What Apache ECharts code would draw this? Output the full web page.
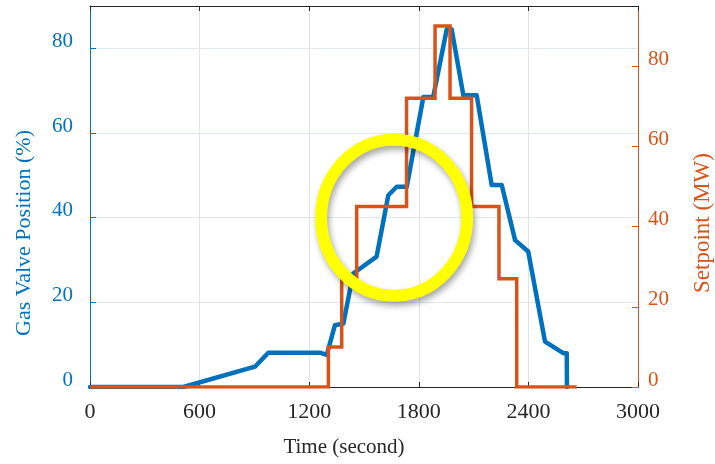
<!DOCTYPE html>
<html>
<head>
<meta charset="utf-8">
<script src="https://cdn.jsdelivr.net/npm/echarts@6/dist/echarts.min.js"></script>
<style>
  html, body { margin: 0; padding: 0; background: #fff; }
  #main { width: 715px; height: 464px; }
</style>
</head>
<body>
<div id="main"></div>
<script>
// 时间轴刻度
const timeTicks = [0, 600, 1200, 1800, 2400, 3000];

// 阀门开度 (%) —— 左轴
const valveTime = [0, 511, 903, 976, 1259, 1296, 1341, 1387, 1441, 1569, 1633, 1679, 1734,
  1825, 1879, 1953, 1980, 2044, 2117, 2199, 2254, 2327, 2399, 2491, 2591, 2610, 2611];
const valvePos = [0, 0, 4.8, 8.1, 8.1, 7.6, 14.6, 15.0, 26.8, 30.8, 45.3, 47.3, 47.3,
  68.5, 68.5, 84.5, 84.5, 68.9, 68.9, 47.7, 47.7, 34.7, 32.0, 10.7, 8.0, 8.0, 0];

// 功率设定值 (MW) —— 右轴，阶梯
const setTime = [0, 1305, 1305, 1378, 1378, 1460, 1460, 1733, 1733, 1889, 1889, 1971, 1971,
  2089, 2089, 2239, 2239, 2336, 2336, 2664];
const setValue = [0, 0, 10, 10, 27, 27, 45, 45, 72, 72, 90, 90, 72,
  72, 45, 45, 27, 27, 0, 0];

const BLUE = '#0072BD';
const ORANGE = '#D95319';
const FONT = '"Liberation Serif", "Times New Roman", serif';

const myChart = echarts.init(document.getElementById('main'));

myChart.setOption({
  animation: false,
  grid: { left: 90, right: 77, top: 6, bottom: 77 },
  xAxis: [{
    type: 'value',
    min: timeTicks[0],
    max: timeTicks[timeTicks.length - 1],
    interval: 600,
    axisLine: { onZero: false, lineStyle: { color: '#262626', width: 1 } },
    axisTick: { inside: true, length: 5, lineStyle: { color: '#262626' } },
    axisLabel: { color: '#262626', fontFamily: FONT, fontSize: 22, margin: 14, formatter: v => String(v) },
    splitLine: { show: true, lineStyle: { color: '#e2e2e2', width: 1 } }
  }, {
    type: 'value',
    position: 'top',
    min: 0, max: 3000, interval: 600,
    axisLine: { onZero: false, lineStyle: { color: '#262626', width: 1 } },
    axisTick: { inside: true, length: 5, lineStyle: { color: '#262626' } },
    axisLabel: { show: false },
    splitLine: { show: false }
  }],
  yAxis: [{
    type: 'value',
    min: 0, max: 90, interval: 20,
    axisLine: { show: true, onZero: false, lineStyle: { color: BLUE, width: 1 } },
    axisTick: { show: true, inside: true, length: 6, lineStyle: { color: BLUE } },
    axisLabel: { color: BLUE, fontFamily: FONT, fontSize: 21, lineHeight: 14, margin: 17, showMaxLabel: false, verticalAlign: 'bottom' },
    splitLine: { show: true, lineStyle: { color: '#dde9f3', width: 1 } }
  }, {
    type: 'value',
    position: 'right',
    min: 0, max: 95, interval: 20,
    axisLine: { show: true, onZero: false, lineStyle: { color: ORANGE, width: 1 } },
    axisTick: { show: true, inside: true, length: 6, lineStyle: { color: ORANGE } },
    axisLabel: { color: ORANGE, fontFamily: FONT, fontSize: 21, lineHeight: 14, margin: 10, showMaxLabel: false, verticalAlign: 'bottom' },
    splitLine: { show: false }
  }],
  series: [{
    name: 'Gas Valve Position',
    type: 'line',
    yAxisIndex: 0,
    showSymbol: false,
    z: 3,
    lineStyle: { color: BLUE, width: 4.5, join: 'round', cap: 'round' },
    data: valveTime.map((t, i) => [t, valvePos[i]])
  }, {
    name: 'Setpoint',
    type: 'line',
    yAxisIndex: 1,
    showSymbol: false,
    z: 4,
    lineStyle: { color: ORANGE, width: 3.5, join: 'miter' },
    data: setTime.map((t, i) => [t, setValue[i]])
  }]
});

// 坐标轴标题 + 黄色圈注
const c = myChart.convertToPixel({ xAxisIndex: 0, yAxisIndex: 0 }, [1665, 40]);
myChart.setOption({
  graphic: [{
    type: 'text', x: 24, y: 233, rotation: Math.PI / 2,
    style: { text: 'Gas Valve Position (%)', fill: BLUE, font: '22px ' + FONT, align: 'center', verticalAlign: 'middle' }
  }, {
    type: 'text', x: 703, y: 223, rotation: Math.PI / 2,
    style: { text: 'Setpoint (MW)', fill: ORANGE, font: '23px ' + FONT, align: 'center', verticalAlign: 'middle' }
  }, {
    type: 'text', x: 344, y: 447,
    style: { text: 'Time (second)', fill: '#262626', font: '21px ' + FONT, align: 'center', verticalAlign: 'middle' }
  }, {
    type: 'ellipse', z: 100,
    shape: { cx: c[0], cy: c[1], rx: 73, ry: 78 },
    style: {
      fill: 'none', stroke: '#FFFF00', lineWidth: 12,
      shadowBlur: 6, shadowColor: 'rgba(0,0,0,0.35)', shadowOffsetX: 2, shadowOffsetY: 4
    }
  }]
});
</script>
</body>
</html>
